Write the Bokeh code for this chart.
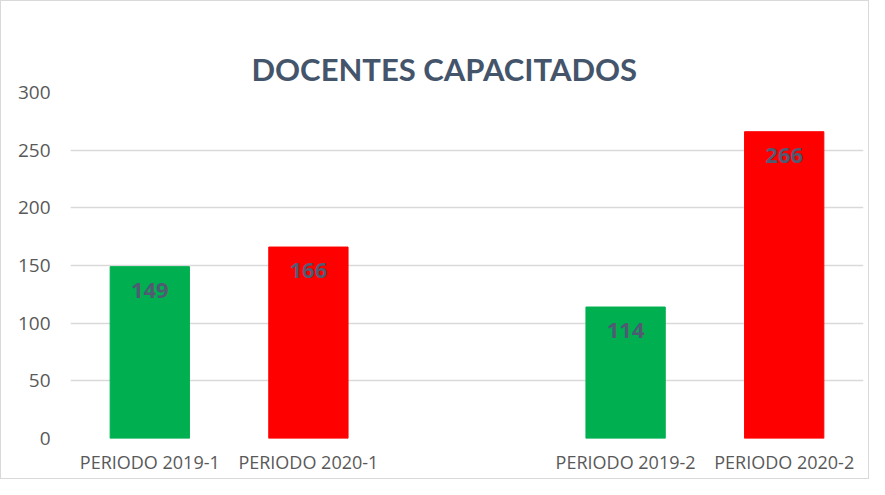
from bokeh.plotting import figure
from bokeh.models import ColumnDataSource, FactorRange, Range1d, FixedTicker, Title
from bokeh.embed import file_html
from bokeh.resources import INLINE
from bokeh.core.properties import value

# ---- data ----
categories = ["PERIODO 2019-1", "PERIODO 2020-1", "PERIODO 2019-2", "PERIODO 2020-2"]
values = [149, 166, 114, 266]
colors = ["#00B050", "#FF0000", "#00B050", "#FF0000"]
axis_factors = ["PERIODO 2019-1", "PERIODO 2020-1", " ", "PERIODO 2019-2", "PERIODO 2020-2"]
y_ticks = [0, 50, 100, 150, 200, 250, 300]
title_text = "DOCENTES CAPACITADOS"

src = ColumnDataSource(dict(cat=categories, val=values, color=colors,
                            lbl=[str(v) for v in values]))

p = figure(width=869, height=479, output_backend="svg", toolbar_location=None,
           x_range=FactorRange(factors=axis_factors, range_padding=0),
           y_range=Range1d(0, 300),
           min_border_left=69, min_border_right=7, min_border_bottom=42, min_border_top=91)

# blank spacer next to the plot area, real title stacked above it
p.title = Title(text="", text_font_size="1px", standoff=26)
p.add_layout(Title(text=title_text, align="left", text_font="Lato",
                   text_font_size="31px", text_font_style="bold", text_color="#44546A",
                   offset=181, standoff=10), "above")

p.vbar(x="cat", top="val", width=0.5, color="color", source=src)
p.text(x="cat", y="val", text="lbl", source=src, text_align="center",
       text_baseline="top", y_offset=16, text_font=value("Open Sans"),
       text_font_size="22px", text_font_style="bold", text_color="#505A72")

p.outline_line_color = None
p.background_fill_color = "white"
p.border_fill_color = "white"
p.styles = {"border": "1px solid #D9D9D9"}

p.xgrid.grid_line_color = None
p.ygrid.grid_line_color = "#D9D9D9"
p.ygrid.grid_line_width = 1.3
p.yaxis.ticker = FixedTicker(ticks=y_ticks)

for ax in (p.xaxis, p.yaxis):
    ax.axis_line_color = None
    ax.major_tick_line_color = None
    ax.minor_tick_line_color = None
    ax.major_label_text_color = "#595959"
    ax.major_label_text_font = "Open Sans"

p.yaxis.major_label_text_font_size = "19px"
p.yaxis.major_label_standoff = 14
p.xaxis.major_label_text_font_size = "18px"
p.xaxis.major_label_standoff = 5

open("out.html", "w").write(file_html(p, INLINE))
